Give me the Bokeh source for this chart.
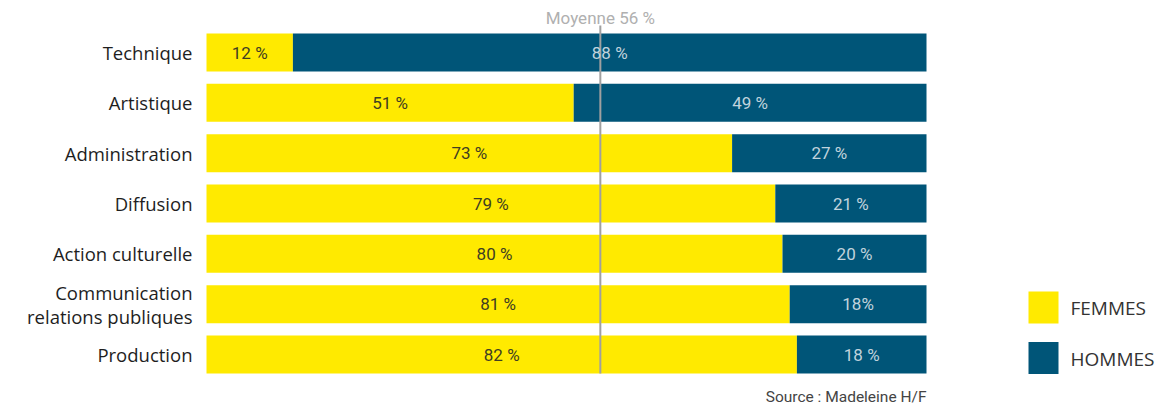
from bokeh.plotting import figure
from bokeh.models import ColumnDataSource, Range1d
from bokeh.core.properties import value
from bokeh.embed import file_html
from bokeh.resources import INLINE

# ---- data ----
categories = ["Technique", "Artistique", "Administration", "Diffusion",
              "Action culturelle", "Communication\nrelations publiques", "Production"]
femmes = [12, 51, 73, 79, 80, 81, 82]
hommes = [88, 49, 27, 21, 20, 18, 18]
femmes_labels = ["12 %", "51 %", "73 %", "79 %", "80 %", "81 %", "82 %"]
hommes_labels = ["88 %", "49 %", "27 %", "21 %", "20 %", "18%", "18 %"]
mean_label = "Moyenne 56 %"
mean_pos = 54.7
legend_items = ["FEMMES", "HOMMES"]
source_text = "Source : Madeleine H/F"

YELLOW = "#FFEA00"
BLUE = "#005578"

n = len(categories)
ypos = [n - 1 - i for i in range(n)]
total = [100] * n

W, H = 1172, 406
px = 7.2          # pixels per percent
sp = 50.33        # pixels per row
x0 = 206          # canvas x of 0 %
y0 = 354          # canvas y of last row centre

def vy(pix):
    return (y0 - pix) / sp

def vx(pix):
    return (pix - x0) / px

p = figure(width=W, height=H, output_backend="svg", toolbar_location=None,
           x_range=Range1d(-x0 / px, (W - x0) / px),
           y_range=Range1d((y0 - H) / sp, y0 / sp),
           min_border=0, outline_line_color=None)
p.axis.visible = False
p.grid.visible = False
p.background_fill_color = "white"
p.border_fill_color = "white"

src = ColumnDataSource(dict(y=ypos, cat=categories, f=femmes, h=hommes, t=total,
                            fl=femmes_labels, hl=hommes_labels,
                            fx=[v / 2 for v in femmes],
                            hx=[f + (100 - f) / 2 for f in femmes]))

bh = 38 / sp
p.hbar(y="y", left=0, right="f", height=bh, source=src, fill_color=YELLOW, line_color=None)
p.hbar(y="y", left="f", right="t", height=bh, source=src, fill_color=BLUE, line_color=None)

# mean line
p.segment(x0=[mean_pos], x1=[mean_pos], y0=[-bh / 2], y1=[vy(25)],
          line_color="#a0a0a0", line_width=2)
p.text(x=[mean_pos], y=[vy(17)], text=[mean_label], text_align="center",
       text_baseline="middle", text_font=value("Roboto"),
       text_font_size="17px", text_color="#b0b0b0")

# value labels
p.text(x="fx", y="y", text="fl", source=src, text_align="center", text_baseline="middle",
       text_font=value("Roboto"), text_font_size="17px", text_color="#403e22")
p.text(x="hx", y="y", text="hl", source=src, text_align="center", text_baseline="middle",
       text_font=value("Roboto"), text_font_size="17px", text_color="#c0d3dd")

# category labels
p.text(x=vx(192), y="y", text="cat", source=src, text_align="right", text_baseline="middle",
       text_font=value("Open Sans"), text_font_size="18.5px", text_color="#1e1e1e",
       text_line_height=0.95)

# legend
leg_col = [YELLOW, BLUE]
p.rect(x=[vx(1043)] * 2, y=[vy(307), vy(357.5)], width=30 / px, height=32 / sp,
       fill_color=leg_col, line_color=None)
p.text(x=[vx(1070)] * 2, y=[vy(307), vy(358)], text=legend_items,
       text_align="left", text_baseline="middle", text_font=value("Open Sans"),
       text_font_size="19px", text_color="#333333")

# source
p.text(x=[100], y=[vy(396)], text=[source_text], text_align="right",
       text_baseline="middle", text_font=value("Roboto"), text_font_size="15.5px",
       text_color="#444444")

open("out.html", "w").write(file_html(p, INLINE))
